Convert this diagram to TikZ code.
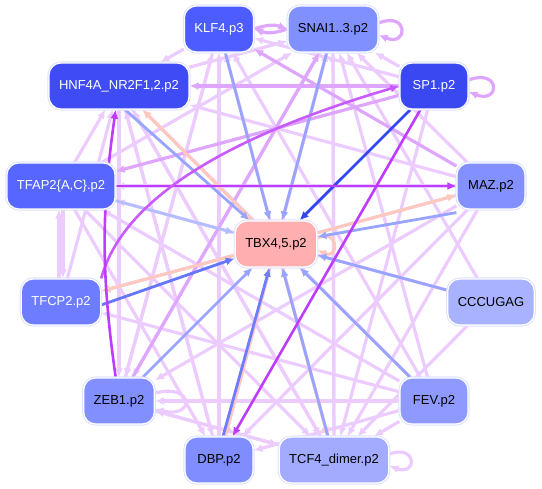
\documentclass[tikz,border=0pt]{standalone}
\usepackage{fontspec}
\setmainfont{Liberation Sans}
\usetikzlibrary{arrows.meta,backgrounds}

\definecolor{rimBlue}{RGB}{222,226,255}
\definecolor{edgeLight}{RGB}{236,204,255}
\definecolor{edgeMid}{RGB}{222,166,255}
\definecolor{edgeStrong}{RGB}{190,60,255}
\definecolor{edgeBlue}{RGB}{152,164,255}
\definecolor{edgeDark}{RGB}{52,70,240}
\definecolor{edgeSalmon}{RGB}{255,200,188}

\tikzset{
  gene/.style={rectangle, rounded corners=12pt, minimum height=46pt,
    minimum width=68pt, inner xsep=10pt,
    font=\fontsize{13}{15}\selectfont,
    draw=white, line width=1.2pt,
    preaction={draw=rimBlue, line width=3.2pt}},
  reg/.style={line width=3.2pt, -{Latex[length=9pt,width=8pt]}},
  light/.style={reg, draw=edgeLight},
  mid/.style={reg, draw=edgeMid},
  strong/.style={reg, draw=edgeStrong, line width=2.6pt},
  blueE/.style={reg, draw=edgeBlue, line width=2.8pt},
  darkE/.style={reg, draw=edgeDark, line width=2.8pt},
  salm/.style={reg, draw=edgeSalmon, line width=3pt},
}

\begin{document}
\begin{tikzpicture}[x=1pt,y=-1pt]
  \useasboundingbox (0,0) rectangle (542,489);

  % genes on the ring
  \node[gene, fill={rgb,255:red,77;green,92;blue,255}, text=white] (klf) at (219,29) {KLF4.p3};
  \node[gene, fill={rgb,255:red,128;green,144;blue,255}] (snai) at (333,29) {SNAI1..3.p2};
  \node[gene, fill={rgb,255:red,63;green,76;blue,245}, text=white] (hnf) at (119,86) {HNF4A\_NR2F1,2.p2};
  \node[gene, fill={rgb,255:red,58;green,72;blue,242}, text=white] (sp) at (434,86) {SP1.p2};
  \node[gene, fill={rgb,255:red,86;green,102;blue,255}, text=white] (tfap) at (61,186) {TFAP2\{A,C\}.p2};
  \node[gene, fill={rgb,255:red,130;green,145;blue,255}] (maz) at (491,186) {MAZ.p2};
  \node[gene, fill={rgb,255:red,110;green,124;blue,255}, text=white] (tfcp) at (61,302) {TFCP2.p2};
  \node[gene, fill={rgb,255:red,169;green,178;blue,255}] (cccu) at (491,302) {CCCUGAG};
  \node[gene, fill={rgb,255:red,130;green,144;blue,255}] (zeb) at (119,401) {ZEB1.p2};
  \node[gene, fill={rgb,255:red,142;green,154;blue,255}] (fev) at (434,401) {FEV.p2};
  \node[gene, fill={rgb,255:red,127;green,141;blue,255}] (dbp) at (219,460) {DBP.p2};
  \node[gene, fill={rgb,255:red,162;green,171;blue,255}] (tcf) at (334,460) {TCF4\_dimer.p2};
  \node[gene, fill={rgb,255:red,255;green,175;blue,175}] (tbx) at (276,244) {TBX4,5.p2};

  \begin{pgfonlayer}{background}
  % light links
  \draw[light] (hnf) -- (snai);
  \draw[light] (tfap) -- (snai);
  \draw[light] (dbp) -- (snai);
  \draw[light] (tcf) -- (snai);
  \draw[light] (fev) -- (snai);
  \draw[light] (cccu) -- (snai);
  \draw[light] (maz) -- (snai);
  \draw[light] (sp) -- (snai);
  \draw[light] (zeb) -- (klf);
  \draw[light] (dbp) -- (klf);
  \draw[light] (fev) -- (klf);
  \draw[light] (tcf) -- (klf);
  \draw[light] (sp) -- (klf);
  \draw[light] (tfap) -- (hnf);
  \draw[light] (dbp) -- (hnf);
  \draw[light] (tcf) -- (hnf);
  \draw[light] (fev) -- (hnf);
  \draw[light] (maz) -- (hnf);
  \draw[light] (tfcp) -- (hnf);
  \draw[light] (klf) -- (hnf);
  \draw[light] (maz) -- (tfap);
  \draw[light] (fev) -- (tfap);
  \draw[light] (cccu) -- (tfap);
  \draw[light] ([xshift=-2pt]tfcp.north) -- ([xshift=-2pt]tfap.south);
  \draw[light] ([xshift=2pt]tfap.south) -- ([xshift=2pt]tfcp.north);
  \draw[light] (fev) -- (tfcp);
  \draw[light] (maz) -- (tfcp);
  \draw[light] (hnf) -- (zeb);
  \draw[light] (klf) -- (zeb);
  \draw[light] (snai) -- (zeb);
  \draw[light] (maz) -- (zeb);
  \draw[light] (fev) -- (zeb);
  \draw[light] (tcf) -- (zeb);
  \draw[light] (hnf) -- (dbp);
  \draw[light] (snai) -- (dbp);
  \draw[light] (tfap) -- (dbp);
  \draw[light] (fev) -- (dbp);
  \draw[light] (maz) -- (dbp);
  \draw[light] (snai) -- (tcf);
  \draw[light] (hnf) -- (tcf);
  \draw[light] (tfap) -- (tcf);
  \draw[light] (fev) -- (tcf);
  \draw[light] (maz) -- (tcf);
  \draw[light] (cccu) -- (tcf);
  \draw[light] (sp) -- (tcf);
  \draw[light] (zeb) -- (tcf);
  \draw[light] (tcf.east) ++(0,-6) .. controls +(28,-10) and +(28,10) .. ([yshift=-6pt]tcf.east);
  \draw[light] (zeb.east) ++(0,-8) .. controls +(40,-10) and +(40,10) .. ([yshift=-8pt]zeb.east);

  % medium links
  \draw[mid] (sp) -- (hnf);
  \draw[mid] (maz) -- (klf);
  \draw[mid] (zeb) -- (snai);
  \draw[mid] (sp) -- (tfap);
  \draw[mid] (klf.east) to[bend left=20] (snai.west);
  \draw[mid] (snai.west) to[bend left=20] (klf.east);
  \draw[mid] (snai.east) ++(0,-6) .. controls +(30,-12) and +(30,12) .. ([yshift=-6pt]snai.east);
  \draw[mid] (sp.east) ++(0,-6) .. controls +(32,-12) and +(32,12) .. ([yshift=-6pt]sp.east);

  % links into TBX4,5
  \draw[salm] (tbx) -- (hnf);
  \draw[salm] (tbx) -- (maz);
  \draw[salm] (tbx) -- (tcf);
  \draw[salm] (tbx) -- (dbp);
  \draw[salm] (tbx) -- (tfcp);
  \draw[salm] (tbx.east) ++(0,-6) .. controls +(22,-10) and +(22,10) .. ([yshift=-6pt]tbx.east);
  \draw[blueE] (klf) -- (tbx);
  \draw[blueE] (snai) -- (tbx);
  \draw[blueE] ([xshift=6pt]hnf.south) -- (tbx);
  \draw[blueE, draw={rgb,255:red,180;green,190;blue,255}] (tfap) -- (tbx);
  \draw[blueE] ([yshift=-3pt]maz.south west) -- (tbx);
  \draw[blueE] (cccu) -- (tbx);
  \draw[blueE] (fev) -- (tbx);
  \draw[blueE] ([xshift=-6pt]tcf.north) -- (tbx);
  \draw[blueE, draw={rgb,255:red,110;green,125;blue,255}] ([xshift=4pt]dbp.north) -- (tbx);
  \draw[blueE] (zeb) -- (tbx);
  \draw[blueE, draw={rgb,255:red,100;green,118;blue,250}] ([yshift=-3pt]tfcp.east) -- (tbx);
  \draw[darkE] (sp) -- (tbx);

  % strong links
  \draw[strong] (tfap) -- (maz);
  \draw[strong] (sp) -- (dbp);
  \draw[strong, draw={rgb,255:red,200;green,90;blue,255}] (tfcp.north east) .. controls (125,190) and (250,130) .. (sp.west);
  \draw[strong] (zeb) to[bend left=8] (hnf);
  \end{pgfonlayer}
\end{tikzpicture}
\end{document}
